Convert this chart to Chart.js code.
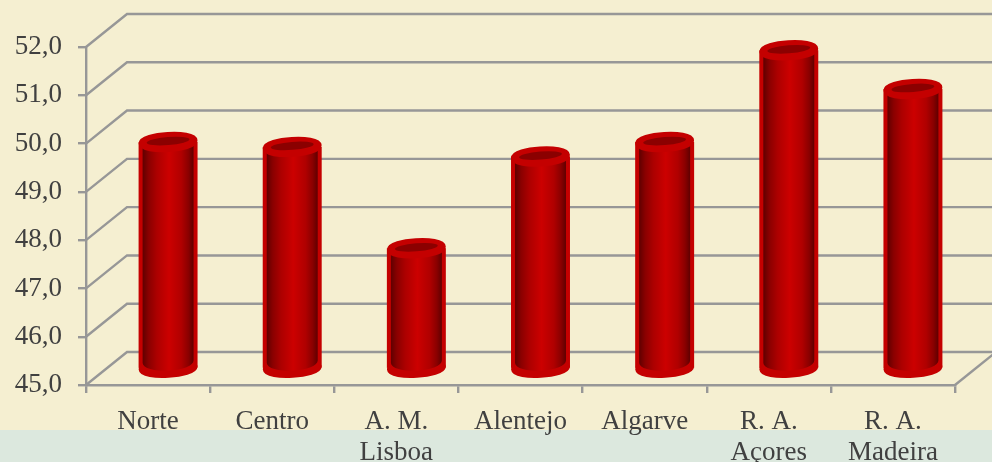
<!DOCTYPE html>
<html>
<head>
<meta charset="utf-8">
<script src="https://cdn.jsdelivr.net/npm/chart.js@4"></script>
<style>
  html, body { margin: 0; padding: 0; }
  body {
    width: 992px; height: 462px; overflow: hidden;
    background: linear-gradient(to bottom, #f5efd1 0, #f5efd1 430px, #dce8de 430px, #dce8de 462px);
  }
  canvas { display: block; }
</style>
</head>
<body>
<canvas id="chart" width="992" height="462"></canvas>
<script>
const categories = ["Norte", "Centro", ["A. M.", "Lisboa"], "Alentejo", "Algarve", ["R. A.", "Açores"], ["R. A.", "Madeira"]];
const values = [49.7, 49.6, 47.5, 49.4, 49.7, 51.6, 50.8];
const tickMin = 45;
const tickMax = 52;

const gridColor = "#979797";
const textColor = "#404040";
const depthX = 41;
const depthY = 33;
const barShiftX = 20;
const barShiftY = 16;

// back wall and the slanted lines joining it to the axis
const wallGrid = {
  id: "wallGrid",
  beforeDatasetsDraw(chart) {
    const {ctx, scales: {y}, chartArea: area} = chart;
    ctx.save();
    ctx.strokeStyle = gridColor;
    ctx.lineWidth = 2.4;
    y.ticks.forEach(t => {
      const py = y.getPixelForValue(t.value);
      ctx.beginPath();
      ctx.moveTo(area.left, py);
      ctx.lineTo(area.left + depthX, py - depthY);
      ctx.lineTo(chart.width + 10, py - depthY);
      ctx.stroke();
    });
    ctx.beginPath();
    ctx.moveTo(area.right, area.bottom);
    ctx.lineTo(area.right + depthX, area.bottom - depthY);
    ctx.stroke();
    ctx.restore();
  }
};

// filled ellipse with a thick outline, gives the rounded shoulders of the caps
function roundCap(c, x, y, rx, ry, color) {
  c.fillStyle = color;
  c.strokeStyle = color;
  c.lineWidth = 8;
  c.beginPath();
  c.ellipse(x, y, rx - 4, ry - 4, -0.06, 0, Math.PI * 2);
  c.fill();
  c.stroke();
}

// bars sit in the middle of the depth, caps turn them into cylinders
const cylinders = {
  id: "cylinders",
  beforeDatasetDraw(chart) {
    chart.ctx.save();
    chart.ctx.translate(barShiftX, -barShiftY);
    chart.getDatasetMeta(0).data.forEach(bar => {
      roundCap(chart.ctx, bar.x, bar.base, bar.width / 2, 10, "#c40000");
    });
  },
  afterDatasetDraw(chart) {
    const c = chart.ctx;
    chart.getDatasetMeta(0).data.forEach(bar => {
      const rx = bar.width / 2;
      const inner = rx - 4;
      const g = c.createLinearGradient(bar.x - inner, 0, bar.x + inner, 0);
      g.addColorStop(0, "#600000");
      g.addColorStop(0.12, "#8a0000");
      g.addColorStop(0.28, "#ac0000");
      g.addColorStop(0.52, "#cc0000");
      g.addColorStop(0.76, "#b00000");
      g.addColorStop(0.9, "#8a0000");
      g.addColorStop(1, "#600000");
      c.fillStyle = g;
      c.beginPath();
      c.moveTo(bar.x - inner, bar.y);
      c.lineTo(bar.x + inner, bar.y);
      c.lineTo(bar.x + inner, bar.base - 6);
      c.ellipse(bar.x, bar.base - 6, inner, 9, -0.05, 0, Math.PI);
      c.closePath();
      c.fill();

      roundCap(c, bar.x, bar.y, rx, 10, "#c40000");
      c.fillStyle = "#8b0000";
      c.beginPath();
      c.ellipse(bar.x, bar.y - 1, rx - 8, 4, -0.08, 0, Math.PI * 2);
      c.fill();
    });
    c.restore();
  }
};

new Chart(document.getElementById("chart"), {
  type: "bar",
  data: {
    labels: categories,
    datasets: [{
      data: values,
      base: tickMin,
      backgroundColor: "#c40000",
      borderWidth: 0,
      barPercentage: 0.475,
      categoryPercentage: 1,
      clip: false
    }]
  },
  options: {
    responsive: false,
    devicePixelRatio: 1,
    animation: false,
    layout: {padding: {top: 47, right: 37, left: 0, bottom: 0}},
    plugins: {legend: {display: false}, tooltip: {enabled: false}},
    scales: {
      x: {
        afterFit(s) { s.height = 77; },
        grid: {drawOnChartArea: false, color: gridColor, lineWidth: 2.4, tickLength: 8},
        border: {color: gridColor, width: 2.4},
        ticks: {
          color: textColor,
          padding: 13,
          autoSkip: false,
          maxRotation: 0,
          font: {family: "Liberation Serif", size: 27, lineHeight: 1.15}
        }
      },
      y: {
        min: tickMin,
        max: tickMax,
        afterFit(s) { s.width = 86; },
        grid: {drawOnChartArea: false, color: gridColor, lineWidth: 2.4, tickLength: 8},
        border: {color: gridColor, width: 2.4},
        ticks: {
          stepSize: 1,
          color: textColor,
          padding: 16,
          callback: v => v.toFixed(1).replace(".", ","),
          font: {family: "Liberation Serif", size: 27}
        }
      }
    }
  },
  plugins: [wallGrid, cylinders]
});
</script>
</body>
</html>
